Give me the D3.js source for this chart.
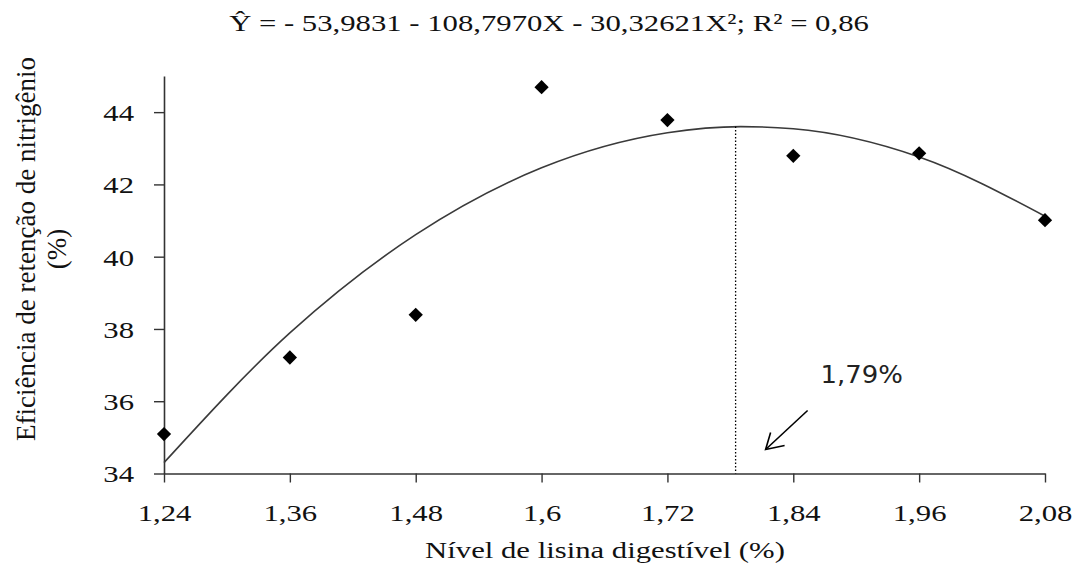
<!DOCTYPE html>
<html>
<head>
<meta charset="utf-8">
<script src="https://cdn.jsdelivr.net/npm/d3@7"></script>
<style>
  body { margin: 0; background: #fff; }
  svg text { font-family: "Times New Roman", "Liberation Serif", "DejaVu Serif", serif; }
</style>
</head>
<body>
<div id="chart"></div>
<script>
// --- Daten ---
const niveis = [1.24, 1.36, 1.48, 1.6, 1.72, 1.84, 1.96, 2.08];
const eficiencia = [35.09, 37.21, 38.39, 44.69, 43.78, 42.79, 42.86, 41.01];

const curvaX = [1.24, 1.36, 1.48, 1.6, 1.72, 1.79, 1.84, 1.96, 2.08];
const curvaY = [34.3, 37.89, 40.61, 42.46, 43.43, 43.6, 43.54, 42.76, 41.12];

const xTicks = [1.24, 1.36, 1.48, 1.6, 1.72, 1.84, 1.96, 2.08];
const yTicks = [34, 36, 38, 40, 42, 44];
const otimo = 1.785; // Lage der gepunkteten Linie
const titulo = "Ŷ = - 53,9831 - 108,7970X - 30,32621X²; R² = 0,86";

const serif = "'Times New Roman', 'Liberation Serif', 'DejaVu Serif', serif";
const sx = 1.28; // Text im Original horizontal gestreckt

const W = 1073, H = 579;
const margin = { top: 76, right: 28, bottom: 105.5, left: 164 };
const width = W - margin.left - margin.right;
const height = H - margin.top - margin.bottom;

const svg = d3.select("#chart").append("svg")
    .attr("width", W)
    .attr("height", H);

const g = svg.append("g")
    .attr("transform", `translate(${margin.left},${margin.top})`);

const x = d3.scaleLinear().domain([1.24, 2.08]).range([0, width]);
const y = d3.scaleLinear().domain([34, 45]).range([height, 0]);

const fmt = d => String(d).replace(".", ",");

// X-Achse
const xAxis = g.append("g")
    .attr("transform", `translate(0,${height})`)
    .call(d3.axisBottom(x).tickValues(xTicks).tickFormat(fmt).tickSize(9).tickSizeOuter(0));
// Y-Achse
const yAxis = g.append("g")
    .call(d3.axisLeft(y).tickValues(yTicks).tickSize(10).tickSizeOuter(0));

[xAxis, yAxis].forEach(a => {
    a.attr("font-family", serif).attr("font-size", 24);
    a.select(".domain").attr("stroke", "#333").attr("stroke-width", 1.6);
    a.selectAll(".tick line").attr("stroke", "#333").attr("stroke-width", 1.4);
    a.selectAll("text").attr("fill", "#111").attr("transform", `scale(${sx},1)`);
});
xAxis.selectAll("text").attr("dy", "1.5em");
yAxis.selectAll("text").attr("x", -30 / sx).attr("dy", "0.35em");

// Regressionskurve
g.append("path")
    .datum(curvaX.map((d, i) => [d, curvaY[i]]))
    .attr("fill", "none")
    .attr("stroke", "#3a3a3a")
    .attr("stroke-width", 1.6)
    .attr("d", d3.line().x(d => x(d[0])).y(d => y(d[1])).curve(d3.curveMonotoneX));

// gepunktete Linie beim Optimum
g.append("line")
    .attr("x1", x(otimo)).attr("x2", x(otimo))
    .attr("y1", y(43.6)).attr("y2", y(34))
    .attr("stroke", "#000")
    .attr("stroke-width", 1.3)
    .attr("stroke-dasharray", "1.5,2");

// Datenpunkte (Rauten)
g.selectAll(".ponto")
    .data(niveis.map((d, i) => [d, eficiencia[i]]))
    .enter()
    .append("path")
    .attr("class", "ponto")
    .attr("transform", d => `translate(${x(d[0])},${y(d[1])})`)
    .attr("d", d3.symbol().type(d3.symbolDiamond2).size(130))
    .attr("fill", "#000");

// Pfeil + Beschriftung
const ax = x(otimo), ay = y(34);
const tx = ax + 30, ty = ay - 24;
const seta = g.append("g").attr("stroke", "#000").attr("stroke-width", 1.6).attr("fill", "none");
seta.append("line")
    .attr("x1", ax + 72).attr("y1", ay - 63)
    .attr("x2", tx).attr("y2", ty);
seta.append("path")
    .attr("d", `M${tx + 5},${ty - 17} L${tx},${ty} L${tx + 19},${ty - 4}`);

g.append("text")
    .attr("transform", `translate(${ax + 85},${ay - 91}) scale(1.08,1)`)
    .style("font-family", "'DejaVu Sans', Verdana, sans-serif")
    .style("font-size", "24px")
    .attr("fill", "#222")
    .text("1,79%");

// Titel
svg.append("text")
    .attr("transform", `translate(549,31) scale(${sx},1)`)
    .attr("text-anchor", "middle")
    .style("font-family", serif)
    .style("font-size", "24px")
    .attr("fill", "#111")
    .text(titulo);

// Achsentitel
svg.append("text")
    .attr("transform", `translate(605,558) scale(${sx},1)`)
    .attr("text-anchor", "middle")
    .style("font-family", serif)
    .style("font-size", "24px")
    .attr("fill", "#111")
    .text("Nível de lisina digestível (%)");

const yl = svg.append("text")
    .attr("transform", "translate(35,249) rotate(-90)")
    .attr("text-anchor", "middle")
    .style("font-family", serif)
    .style("font-size", "27px")
    .attr("fill", "#111");
yl.append("tspan").attr("x", 0).attr("dy", 0).text("Eficiência de retenção de nitrigênio");
yl.append("tspan").attr("x", 0).attr("dy", "1.15em").text("(%)");
</script>
</body>
</html>
